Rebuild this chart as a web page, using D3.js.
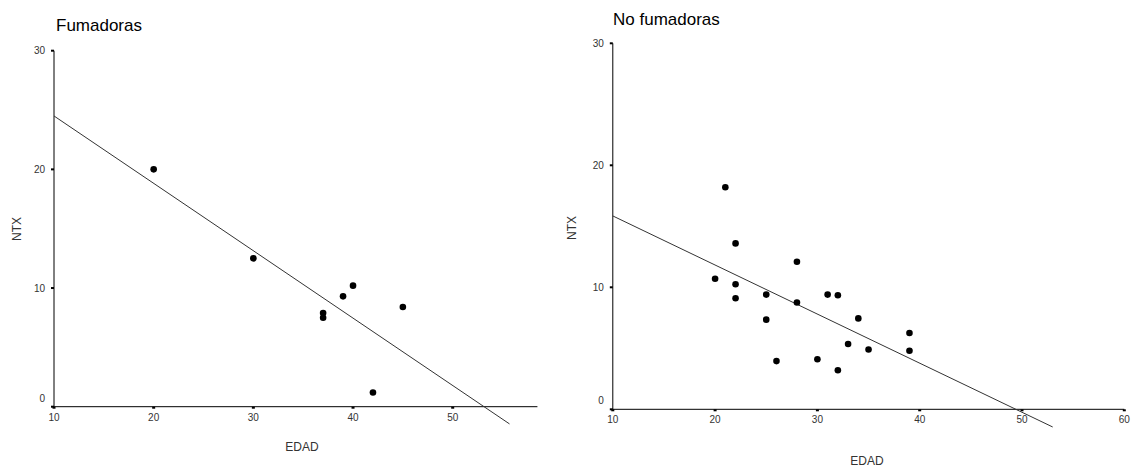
<!DOCTYPE html>
<html>
<head>
<meta charset="utf-8">
<script src="https://cdn.jsdelivr.net/npm/d3@7"></script>
<style>
  body { margin: 0; background: #fff; }
  svg { display: block; font-family: Arial, "Liberation Sans", sans-serif; }
</style>
</head>
<body>
<svg id="chart" width="1134" height="471"></svg>
<script>
// Fumadoras (smokers): EDAD vs NTX
const smokersEdad = [20, 30, 37, 37, 39, 40, 45, 42];
const smokersNtx = [20, 12.5, 7.9, 7.5, 9.3, 10.2, 8.4, 1.2];
const smokersFit = [[10, 24.5], [55.7, -1.45]];

// No fumadoras (non-smokers)
const nonSmokersEdad = [21, 22, 20, 22, 22, 25, 25, 26, 28, 28, 30, 31, 32, 32, 33, 34, 35, 39, 39];
const nonSmokersNtx = [18.2, 13.6, 10.7, 10.25, 9.1, 9.4, 7.35, 3.95, 12.1, 8.75, 4.1, 9.4, 9.35, 3.2, 5.35, 7.45, 4.9, 6.25, 4.8];
const nonSmokersFit = [[10, 15.85], [53, -1.45]];

const yTicks = [0, 10, 20, 30];
const xTicksLeft = [10, 20, 30, 40, 50];
const xTicksRight = [10, 20, 30, 40, 50, 60];

const svg = d3.select('#chart');

function drawPanel(opts) {
  const g = svg.append('g');
  const x = d3.scaleLinear().domain(opts.xDomain).range(opts.xRange);
  const y = d3.scaleLinear().domain([0, 30]).range(opts.yRange);

  // title
  g.append('text')
    .attr('x', opts.titleX).attr('y', opts.titleY)
    .attr('font-size', 17).attr('fill', '#000')
    .text(opts.title);

  // axes lines
  g.append('line')
    .attr('x1', x(10)).attr('x2', x(10))
    .attr('y1', y(30)).attr('y2', y(0))
    .attr('stroke', '#000');
  g.append('line')
    .attr('x1', x(10)).attr('x2', x(opts.xEnd))
    .attr('y1', y(0)).attr('y2', y(0))
    .attr('stroke', '#000');

  // y ticks
  g.selectAll('.yt').data(yTicks).enter().append('rect')
    .attr('x', x(10) - 3).attr('y', d => y(d) - 1)
    .attr('width', 3).attr('height', 2).attr('fill', '#000');
  g.selectAll('.yl').data(yTicks).enter().append('text')
    .attr('x', x(10) - 9)
    .attr('y', d => y(d) + (d === 0 ? -5 : 3.5))
    .attr('text-anchor', 'end').attr('font-size', 10).attr('fill', '#333')
    .text(d => d);

  // x ticks
  g.selectAll('.xt').data(opts.xTicks).enter().append('rect')
    .attr('x', d => x(d) - 1.5).attr('y', y(0))
    .attr('width', 3).attr('height', 2).attr('fill', '#000');
  g.selectAll('.xl').data(opts.xTicks).enter().append('text')
    .attr('x', d => x(d)).attr('y', y(0) + 14)
    .attr('text-anchor', 'middle').attr('font-size', 10).attr('fill', '#333')
    .text(d => d);

  // axis titles
  g.append('text')
    .attr('transform', `translate(${opts.yTitleX},${opts.yTitleY}) rotate(-90)`)
    .attr('text-anchor', 'middle').attr('font-size', 12).attr('fill', '#333')
    .text('NTX');
  g.append('text')
    .attr('x', opts.xTitleX).attr('y', opts.xTitleY)
    .attr('text-anchor', 'middle').attr('font-size', 12).attr('fill', '#333')
    .text('EDAD');

  // fit line
  g.append('path')
    .datum(opts.fit)
    .attr('fill', 'none').attr('stroke', '#333').attr('stroke-width', 1)
    .attr('d', d3.line().x(d => x(d[0])).y(d => y(d[1])));

  // points
  g.selectAll('.pt').data(opts.xs.map((v, i) => [v, opts.ys[i]])).enter().append('circle')
    .attr('cx', d => x(d[0])).attr('cy', d => y(d[1]))
    .attr('r', 3.3).attr('fill', '#000');
}

drawPanel({
  title: 'Fumadoras', titleX: 56, titleY: 31,
  xDomain: [10, 50], xRange: [54, 452.7], xEnd: 58.5,
  yRange: [406.7, 50.7],
  xTicks: xTicksLeft,
  yTitleX: 21, yTitleY: 229,
  xTitleX: 302, xTitleY: 451,
  fit: smokersFit, xs: smokersEdad, ys: smokersNtx
});

drawPanel({
  title: 'No fumadoras', titleX: 613, titleY: 25,
  xDomain: [10, 60], xRange: [612.8, 1124.3], xEnd: 60,
  yRange: [409.3, 43.3],
  xTicks: xTicksRight,
  yTitleX: 576, yTitleY: 228,
  xTitleX: 867, xTitleY: 465,
  fit: nonSmokersFit, xs: nonSmokersEdad, ys: nonSmokersNtx
});
</script>
</body>
</html>
